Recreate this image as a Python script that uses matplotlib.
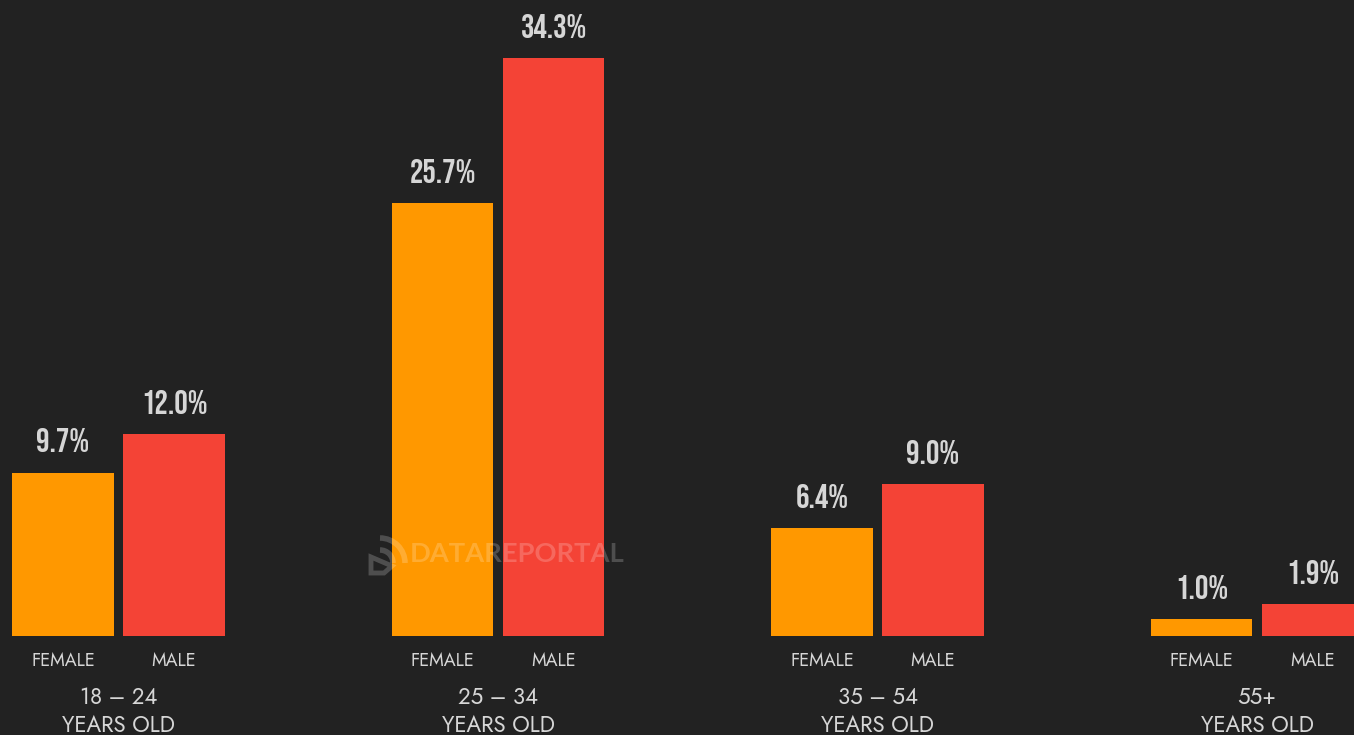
#!/usr/bin/env python3
import numpy as np
import matplotlib
matplotlib.use("Agg")
import matplotlib.pyplot as plt
from matplotlib import font_manager as fm
from matplotlib.patches import Arc, Polygon

ages = ["18 – 24", "25 – 34", "35 – 54", "55+"]
female = [9.7, 25.7, 6.4, 1.0]
male = [12.0, 34.3, 9.0, 1.9]

bg = "#222222"
orange = "#ff9800"
red = "#f44336"
text_col = "#d6d6d6"

names = {f.name for f in fm.fontManager.ttflist}
def pick(*fams):
    for f in fams:
        if f in names:
            return f
    return "DejaVu Sans"
num_font = pick("Bebas Neue", "Oswald", "Roboto")
lab_font = pick("Jost", "Lato")

fig = plt.figure(figsize=(13.54, 7.35), dpi=100, facecolor=bg)
ax = fig.add_axes([0, 0, 1, 1])
ax.set_facecolor(bg)

# one x unit is one age group, one y unit is one percent
x_unit = 379.5
y_unit = 16.85
ax.set_xlim(-118.5 / x_unit, (1354 - 118.5) / x_unit)
ax.set_ylim(-99 / y_unit, 636 / y_unit)
ax.axis("off")

x = np.arange(len(ages))
off = 55.5 / x_unit
w = 101.5 / x_unit

ax.bar(x - off, female, w, color=orange)
ax.bar(x + off, male, w, color=red)

for i in x:
    ax.text(i - off, female[i] + 1.2, f"{female[i]:.1f}%", ha="center", va="bottom",
            color=text_col, fontsize=24.2, family=num_font)
    ax.text(i + off, male[i] + 1.2, f"{male[i]:.1f}%", ha="center", va="bottom",
            color=text_col, fontsize=24.2, family=num_font)
    ax.text(i - off, -25 / y_unit, "FEMALE", ha="center", va="center",
            color=text_col, fontsize=13, family=lab_font)
    ax.text(i + off, -25 / y_unit, "MALE", ha="center", va="center",
            color=text_col, fontsize=13, family=lab_font)
    ax.text(i, -62 / y_unit, ages[i], ha="center", va="center",
            color=text_col, fontsize=16, family=lab_font)
    ax.text(i, -89 / y_unit, "YEARS OLD", ha="center", va="center",
            color=text_col, fontsize=16, family=lab_font)

# watermark
ax.text(1 + (410 - 498) / x_unit, (636 - 554) / y_unit, "DATAREPORTAL", ha="left", va="center",
        color="white", alpha=0.2, fontsize=19.7, family="Lato", fontweight="bold")
lx = 1 + (380 - 498) / x_unit
ly = (636 - 563) / y_unit
for d in [26, 50]:
    ax.add_patch(Arc((lx, ly), d / x_unit, d / y_unit, theta1=0, theta2=90,
                     color="white", alpha=0.2, lw=4))
ax.add_patch(Polygon([(lx - 9 / x_unit, ly + 6 / y_unit), (lx - 9 / x_unit, ly - 10 / y_unit),
                      (lx + 4 / x_unit, ly - 10 / y_unit), (lx + 12 / x_unit, ly - 3 / y_unit)],
                     closed=True, fill=False, ec="white", alpha=0.2, lw=3.5))

fig.savefig("out.png", dpi=100, facecolor=bg)
